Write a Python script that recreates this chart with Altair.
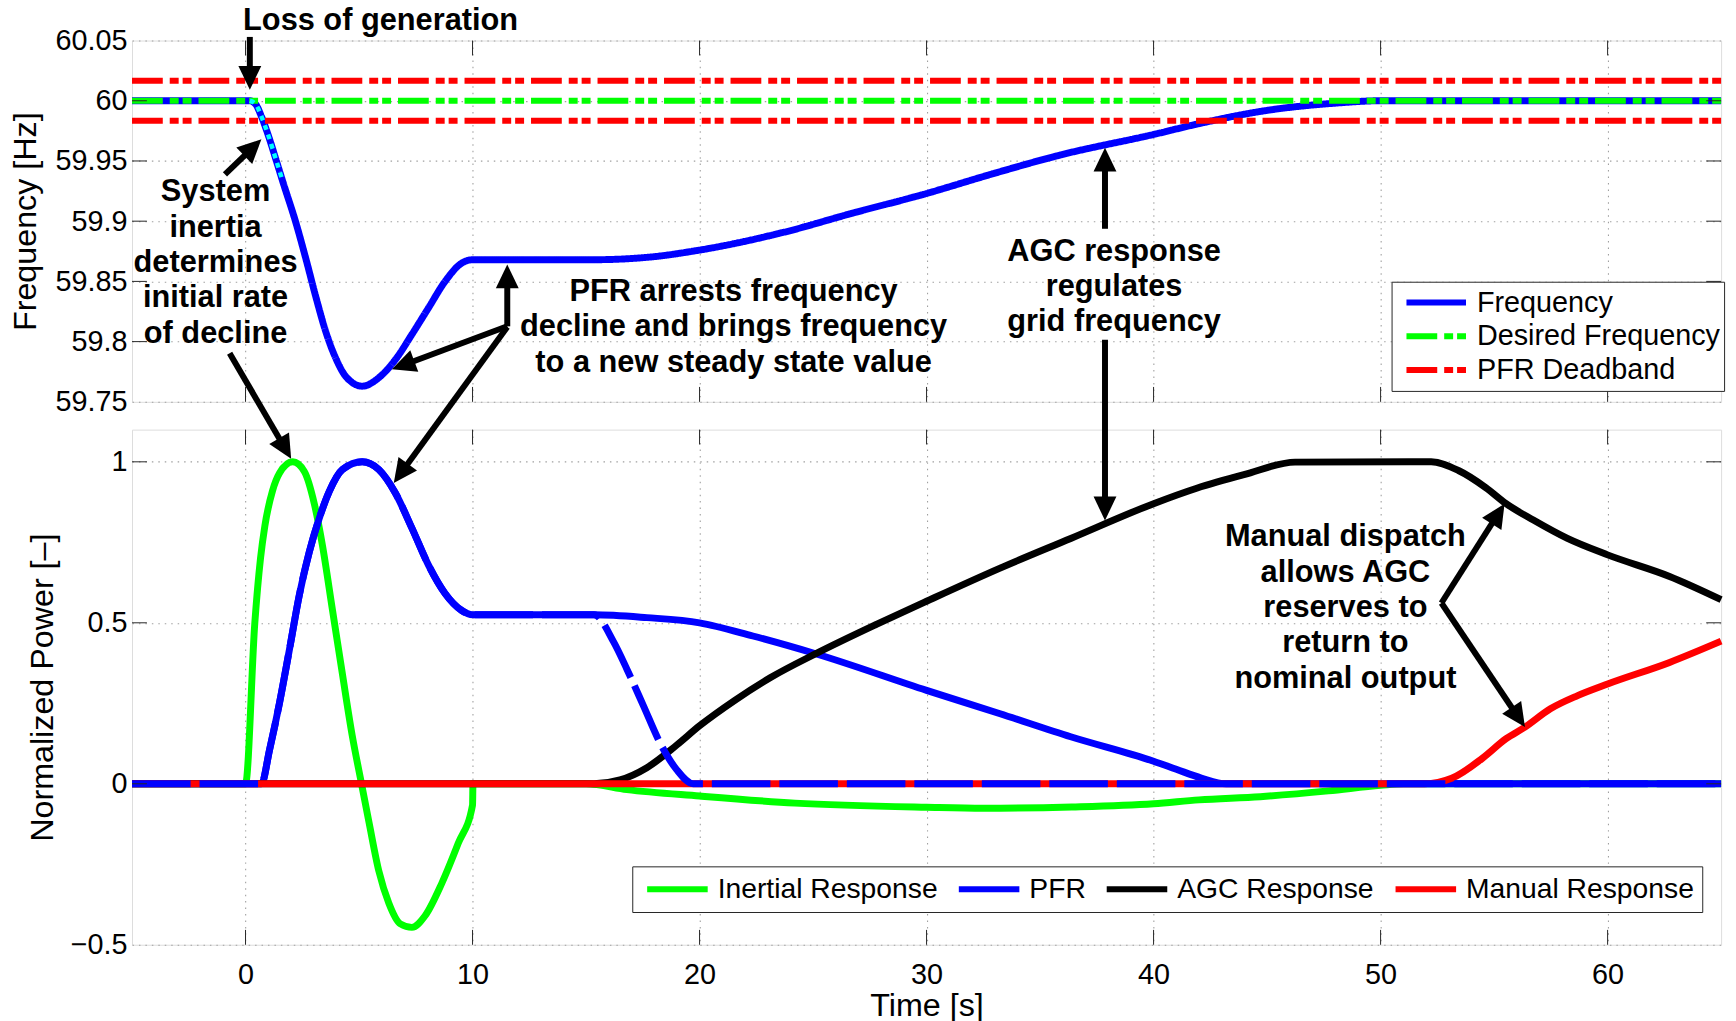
import math

import altair as alt
import pandas as pd

# ---------------------------------------------------------------- shared time axis
T_DOMAIN = [-5, 65]
TIME_TICKS = [0, 10, 20, 30, 40, 50, 60]

# ---------------------------------------------------------------- frequency panel
FREQ_DOMAIN = [59.75, 60.05]
FREQ_TICKS = [59.75, 59.8, 59.85, 59.9, 59.95, 60.0, 60.05]

FREQ_T = [-5, 0.19, 0.45, 0.70, 0.99, 1.36, 1.64, 2.23, 2.67, 3.10, 3.54, 3.98, 4.42,
          5.14, 5.87, 6.60, 7.33, 8.06, 8.79, 9.51, 10.0, 15.3, 17.7, 20.0, 23.75,
          26.8, 30.0, 32.85, 35.9, 40.0, 42.0, 45.0, 48.0, 50.0, 65.0]
FREQ_HZ = [60.0, 60.0, 59.997, 59.987, 59.972, 59.950, 59.933, 59.898, 59.868, 59.837,
           59.808, 59.786, 59.771, 59.763, 59.770, 59.785, 59.806, 59.828, 59.850,
           59.865, 59.868, 59.868, 59.870, 59.876, 59.891, 59.907, 59.923, 59.939,
           59.955, 59.972, 59.981, 59.992, 59.998, 60.0, 60.0]

NOMINAL_HZ = 60.0
DEADBAND_HZ = 0.0166
INERTIA_WINDOW = [0.19, 1.64]   # initial rate-of-change segment, drawn dotted

# ---------------------------------------------------------------- power panel
POWER_DOMAIN = [-0.5, 1.1]
POWER_TICKS = [-0.5, 0.0, 0.5, 1.0]

INERTIAL_T = [-5, 0.0, 0.41, 0.66, 0.85, 1.19, 1.50, 2.08, 2.59, 3.03, 3.39, 3.83,
              4.27, 4.70, 5.11, 5.44, 5.87, 6.31, 6.82, 7.33, 7.91, 8.64, 9.37, 10.0,
              10.02, 15.0, 16.8, 20.0, 24.2, 30.0, 32.5, 36.4, 40.0, 42.0, 44.7, 47.7,
              50.0, 51.0, 65.0]
INERTIAL_P = [0.0, 0.0, 0.50, 0.70, 0.80, 0.91, 0.965, 1.0, 0.97, 0.87, 0.74, 0.54,
              0.34, 0.15, 0.0, -0.12, -0.27, -0.37, -0.435, -0.446, -0.41, -0.31, -0.185,
              -0.066, 0.0, 0.0, -0.018, -0.038, -0.060, -0.073, -0.076, -0.072, -0.062,
              -0.05, -0.04, -0.022, -0.005, 0.0, 0.0]

PFR_T = [-5, 0.70, 1.06, 1.50, 1.94, 2.37, 2.81, 3.25, 3.69, 4.27, 5.14, 5.87, 6.60,
         7.33, 8.06, 8.79, 9.51, 10.0, 15.35, 17.68, 20.0, 22.35, 25.15, 30.0, 33.24,
         36.35, 40.0, 41.0, 42.1, 43.2, 65.0]
PFR_P = [0.0, 0.0, 0.106, 0.252, 0.419, 0.586, 0.72, 0.825, 0.908, 0.976, 1.0, 0.976,
         0.903, 0.794, 0.679, 0.591, 0.539, 0.525, 0.525, 0.516, 0.50, 0.459, 0.403,
         0.29, 0.2175, 0.146, 0.07, 0.045, 0.018, 0.0, 0.0]

# fast withdrawal of primary response once secondary control takes over (dashed)
PFR_DROP_T = [15.35, 16.22, 16.8, 17.53, 18.26, 18.99, 19.72, 65.0]
PFR_DROP_P = [0.525, 0.44, 0.356, 0.242, 0.127, 0.044, 0.0, 0.0]

AGC_T = [-5, 15.35, 16.5, 17.68, 18.99, 20.0, 21.57, 23.13, 25.15, 27.79, 30.0, 33.24,
         36.35, 40.0, 41.9, 43.98, 46.23, 52.23, 53.43, 54.63, 55.53, 56.73, 58.23,
         60.0, 62.73, 65.0]
AGC_P = [0.0, 0.0, 0.012, 0.05, 0.12, 0.18, 0.26, 0.33, 0.405, 0.495, 0.567, 0.67,
         0.762, 0.87, 0.918, 0.96, 0.999, 1.0, 0.973, 0.92, 0.87, 0.819, 0.762, 0.711,
         0.644, 0.572]

MANUAL_T = [-5, 51.93, 53.13, 54.48, 55.53, 56.36, 57.48, 58.68, 60.0, 62.73, 65.0]
MANUAL_P = [0.0, 0.0, 0.017, 0.079, 0.14, 0.176, 0.233, 0.274, 0.31, 0.377, 0.443]

# ---------------------------------------------------------------- series / legends
TOP_SERIES = ["Frequency", "Desired Frequency", "PFR Deadband"]
TOP_COLORS = ["#0000ff", "#00ff00", "#ff0000"]
DASH_DOT = [31, 7, 9, 4, 9, 7]
TOP_DASHES = [[1, 0], DASH_DOT, DASH_DOT]

BOTTOM_SERIES = ["Inertial Response", "PFR", "AGC Response", "Manual Response"]
BOTTOM_COLORS = ["#00ff00", "#0000ff", "#000000", "#ff0000"]

# ---------------------------------------------------------------- annotations
# (text, t, value at the vertical centre of the text block)
TOP_NOTES = [
    ("Loss of generation", 5.95, 60.0664),
    ("System\ninertia\ndetermines\ninitial rate\nof decline", -1.32, 59.8652),
    ("PFR arrests frequency\ndecline and brings frequency\nto a new steady state value",
     21.5, 59.8119),
    ("AGC response\nregulates\ngrid frequency", 38.26, 59.8454),
]
BOTTOM_NOTES = [
    ("Manual dispatch\nallows AGC\nreserves to\nreturn to\nnominal output", 48.45, 0.546),
]

# arrows: (tail t, tail value, tip t, tip value)
TOP_ARROWS = [
    (0.19, 60.053, 0.19, 60.0091),
    (-0.905, 59.9388, 0.70, 59.968),
    (11.53, 59.8127, 11.53, 59.864),
    (11.53, 59.8127, 6.45, 59.777),
    (37.86, 59.8937, 37.86, 59.961),
]
BOTTOM_ARROWS = [
    (-0.70, 1.337, 2.01, 1.0096),
    (11.53, 1.419, 6.53, 0.934),
    (37.86, 1.379, 37.86, 0.818),
    (52.68, 0.5615, 55.46, 0.8696),
    (52.68, 0.5615, 56.36, 0.176),
]

# ---------------------------------------------------------------- layout / style
PLOT_W = 1601
TOP_H = 364
BOTTOM_H = 519
PANEL_GAP = 28
TICK_LEN = 15
FONT = "Liberation Sans"
FRAME = "#262626"
GRID = "#a0a0a0"
LINE_W = 7
NOTE_SIZE = 31
NOTE_LINE = 35.6
HEAD_LEN = 24
HEAD_PATH = "M0,-1L0.48,0L-0.48,0Z"


def scales(ydom, height):
    sx = PLOT_W / (T_DOMAIN[1] - T_DOMAIN[0])
    sy = height / (ydom[1] - ydom[0])
    return sx, sy


def arrow_tables(arrows, ydom, height):
    """Split arrows into shaft segments and rotated heads (heads sized in pixels)."""
    sx, sy = scales(ydom, height)
    shafts, heads = [], []
    for t0, v0, t1, v1 in arrows:
        dx = (t1 - t0) * sx
        dy = -(v1 - v0) * sy
        length = math.hypot(dx, dy)
        ux, uy = dx / length, dy / length
        shafts.append({"t": t0, "v": v0,
                       "t2": t1 - ux * (HEAD_LEN - 5) / sx,
                       "v2": v1 + uy * (HEAD_LEN - 5) / sy})
        heads.append({"t": t1 - ux * HEAD_LEN / sx,
                      "v": v1 + uy * HEAD_LEN / sy,
                      "angle": math.degrees(math.atan2(ux, -uy)) % 360})
    return pd.DataFrame(shafts), pd.DataFrame(heads)


def note_table(notes, ydom, height):
    """Multi-line labels are anchored on their first line; shift up by half the block."""
    _, sy = scales(ydom, height)
    rows = []
    for label, t, v in notes:
        n = label.count("\n")
        rows.append({"label": label, "t": t, "v": v + n * NOTE_LINE / 2 / sy})
    return pd.DataFrame(rows)


def x_enc(bottom):
    axis_kw = dict(values=TIME_TICKS, grid=True, gridColor=GRID, gridDash=[1.5, 5],
                   gridWidth=1.1, ticks=False, domain=False, labelFlush=False)
    if bottom:
        axis = alt.Axis(title="Time [s]", labels=True, format="d", labelFont=FONT,
                        labelFontSize=29, labelColor="black", labelPadding=16,
                        titleFont=FONT, titleFontSize=32.5, titleFontWeight="normal",
                        titleColor="black", titlePadding=0, **axis_kw)
    else:
        axis = alt.Axis(title=None, labels=False, **axis_kw)
    return alt.X("t:Q", scale=alt.Scale(domain=T_DOMAIN, nice=False, zero=False),
                 axis=axis)


def y_enc(domain, ticks, title, fmt, title_pad):
    axis = alt.Axis(values=ticks, title=title, format=fmt, grid=True, gridColor=GRID,
                    gridDash=[1.5, 5], gridWidth=1.1, ticks=False, domain=False,
                    labelFont=FONT, labelFontSize=29, labelColor="black",
                    labelPadding=5, labelFlush=False, labelOverlap=False,
                    titleFont=FONT, titleFontSize=32.5, titleFontWeight="normal",
                    titleColor="black", titlePadding=title_pad)
    return alt.Y("v:Q", scale=alt.Scale(domain=domain, nice=False, zero=False),
                 axis=axis)


def frame_ticks(x, y, height, y_ticks):
    """Inward-pointing ticks on all four sides of a panel."""
    xt = pd.DataFrame({"t": TIME_TICKS})
    yt = pd.DataFrame({"v": y_ticks})
    rule = alt.Chart().mark_rule(color=FRAME, strokeWidth=1)
    return [
        rule.properties(data=xt).encode(x=x, y=alt.value(height), y2=alt.value(height - TICK_LEN)),
        rule.properties(data=xt).encode(x=x, y=alt.value(0), y2=alt.value(TICK_LEN)),
        rule.properties(data=yt).encode(y=y, x=alt.value(0), x2=alt.value(TICK_LEN)),
        rule.properties(data=yt).encode(y=y, x=alt.value(PLOT_W), x2=alt.value(PLOT_W - TICK_LEN)),
    ]


def annotation_layers(notes, arrows, x, y, ydom, height):
    shafts, heads = arrow_tables(arrows, ydom, height)
    text_df = note_table(notes, ydom, height)
    return [
        alt.Chart(shafts).mark_rule(color="black", strokeWidth=6, strokeCap="butt").encode(
            x=x, y=y, x2="t2:Q", y2="v2:Q"),
        alt.Chart(heads).mark_point(shape=HEAD_PATH, filled=True, size=(2 * HEAD_LEN) ** 2,
                                    color="black", opacity=1).encode(
            x=x, y=y, angle=alt.Angle("angle:Q", scale=None)),
        alt.Chart(text_df).mark_text(font=FONT, fontSize=NOTE_SIZE, fontWeight="bold",
                                     lineBreak="\n", lineHeight=NOTE_LINE, align="center",
                                     baseline="middle", color="black").encode(
            x=x, y=y, text="label:N"),
    ]


# ---------------------------------------------------------------- frequency panel
freq_df = pd.DataFrame({"t": FREQ_T, "v": FREQ_HZ, "series": "Frequency"})
desired_df = pd.DataFrame({"t": T_DOMAIN, "v": [NOMINAL_HZ] * 2,
                           "series": "Desired Frequency"})
deadband_df = pd.DataFrame({
    "t": T_DOMAIN * 2,
    "v": [NOMINAL_HZ + DEADBAND_HZ] * 2 + [NOMINAL_HZ - DEADBAND_HZ] * 2,
    "level": ["upper", "upper", "lower", "lower"],
    "series": "PFR Deadband",
})

top_legend = alt.Legend(title=None, orient="none", legendX=1269, legendY=243,
                        symbolType="stroke", symbolSize=3600, symbolStrokeWidth=6,
                        clipHeight=34, rowPadding=0, padding=4, symbolOffset=8,
                        labelOffset=8, labelFont=FONT, labelFontSize=29,
                        labelColor="black", labelLimit=400, strokeColor=FRAME,
                        fillColor="white", cornerRadius=0)
top_color = alt.Color("series:N", scale=alt.Scale(domain=TOP_SERIES, range=TOP_COLORS),
                      legend=top_legend)
top_dash = alt.StrokeDash("series:N", scale=alt.Scale(domain=TOP_SERIES, range=TOP_DASHES),
                          legend=top_legend)

xt = x_enc(bottom=False)
yt = y_enc(FREQ_DOMAIN, FREQ_TICKS, "Frequency [Hz]", ".4~r", 13)

freq_line = alt.Chart(freq_df).mark_line(strokeWidth=LINE_W, interpolate="monotone").encode(
    x=xt, y=yt, color=top_color, strokeDash=top_dash)
inertia_slope = alt.Chart(freq_df).transform_filter(
    (alt.datum.t >= INERTIA_WINDOW[0]) & (alt.datum.t <= INERTIA_WINDOW[1])
).mark_line(color="#00ffff", strokeWidth=4.5, strokeDash=[5, 5],
            interpolate="monotone").encode(x=xt, y=yt)
desired_line = alt.Chart(desired_df).mark_line(strokeWidth=6).encode(
    x=xt, y=yt, color=top_color, strokeDash=top_dash)
deadband_lines = alt.Chart(deadband_df).mark_line(strokeWidth=6).encode(
    x=xt, y=yt, color=top_color, strokeDash=top_dash, detail="level:N")

top_panel = alt.layer(
    freq_line, desired_line, deadband_lines, inertia_slope,
    *frame_ticks(xt, yt, TOP_H, FREQ_TICKS[1:-1]),
    *annotation_layers(TOP_NOTES, TOP_ARROWS, xt, yt, FREQ_DOMAIN, TOP_H),
).properties(width=PLOT_W, height=TOP_H)

# ---------------------------------------------------------------- power panel
power_df = pd.concat([
    pd.DataFrame({"t": INERTIAL_T, "v": INERTIAL_P, "series": "Inertial Response"}),
    pd.DataFrame({"t": PFR_T, "v": PFR_P, "series": "PFR"}),
    pd.DataFrame({"t": AGC_T, "v": AGC_P, "series": "AGC Response"}),
    pd.DataFrame({"t": MANUAL_T, "v": MANUAL_P, "series": "Manual Response"}),
], ignore_index=True)

pfr_fast_df = pd.concat([
    pd.DataFrame({"t": PFR_T, "v": PFR_P}).query("t < @PFR_DROP_T[0]"),
    pd.DataFrame({"t": PFR_DROP_T, "v": PFR_DROP_P}),
], ignore_index=True)

bottom_legend = alt.Legend(title=None, orient="none", legendX=504, legendY=440,
                           direction="horizontal", columns=4, symbolType="stroke",
                           symbolSize=3721, symbolStrokeWidth=6, clipHeight=30,
                           rowPadding=0, columnPadding=14, padding=8, symbolOffset=4,
                           labelOffset=7, labelFont=FONT, labelFontSize=28.5,
                           labelColor="black", labelLimit=400, strokeColor=FRAME,
                           fillColor="white", cornerRadius=0)
bottom_color = alt.Color("series:N",
                         scale=alt.Scale(domain=BOTTOM_SERIES, range=BOTTOM_COLORS),
                         legend=bottom_legend)

xb = x_enc(bottom=True)
yb = y_enc(POWER_DOMAIN, POWER_TICKS, "Normalized Power [–]", ".1~f", 11)


def power_series(name):
    return alt.Chart(power_df).transform_filter(alt.datum.series == name).mark_line(
        strokeWidth=LINE_W, interpolate="monotone").encode(x=xb, y=yb, color=bottom_color)


pfr_fast = alt.Chart(pfr_fast_df).mark_line(
    color="#0000ff", strokeWidth=LINE_W, strokeDash=[59, 9], interpolate="monotone"
).encode(x=xb, y=yb)

bottom_panel = alt.layer(
    power_series("Inertial Response"),
    power_series("PFR"),
    power_series("AGC Response"),
    power_series("Manual Response"),
    pfr_fast,
    *frame_ticks(xb, yb, BOTTOM_H, POWER_TICKS[1:]),
    *annotation_layers(BOTTOM_NOTES, BOTTOM_ARROWS, xb, yb, POWER_DOMAIN, BOTTOM_H),
).properties(width=PLOT_W, height=BOTTOM_H)

chart = alt.vconcat(top_panel, bottom_panel, spacing=PANEL_GAP, bounds="flush").resolve_scale(
    y="independent", color="independent", strokeDash="independent"
).resolve_legend(color="independent", strokeDash="independent").properties(
    padding={"left": 8, "top": 0, "right": 0, "bottom": 0}
).configure_view(stroke=FRAME, strokeWidth=1.2).configure(font=FONT, background="white")

chart.save("out.html", embed_options={"renderer": "svg", "actions": False})
